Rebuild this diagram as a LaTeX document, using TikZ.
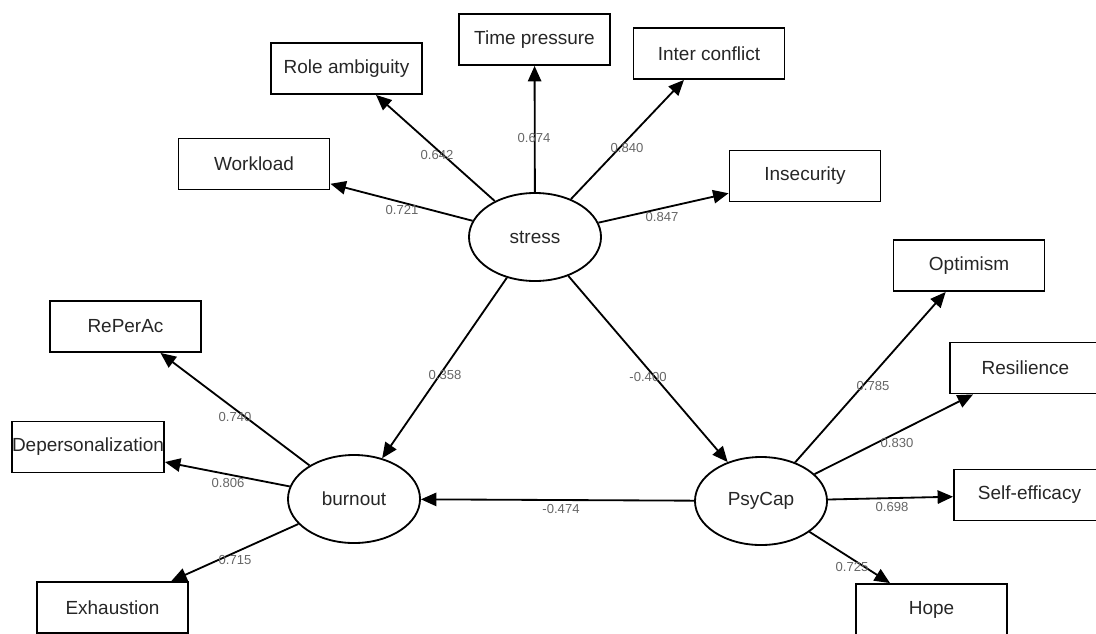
\documentclass[tikz,border=0pt]{standalone}
\usepackage{fontspec}
\setmainfont{Liberation Sans}
\usetikzlibrary{arrows.meta,shapes.geometric}
\tikzset{
  obs/.style={draw, line width=1.3pt, minimum width=3.775cm, minimum height=1.275cm, inner sep=0pt, text=black!85, font=\fontsize{13.5}{16}\selectfont},
  lat/.style={draw, ellipse, line width=1.3pt, minimum width=3.3cm, minimum height=2.2cm, inner sep=0pt, text=black!85, font=\fontsize{13.5}{16}\selectfont},
  load/.style={-{Triangle[length=11pt,width=9.5pt]}, line width=1.3pt},
  wt/.style={inner sep=0pt, text=black!60, font=\fontsize{9.3}{11}\selectfont}
}
\begin{document}
\begin{tikzpicture}[x=0.025cm,y=-0.025cm]
\useasboundingbox (0,0) rectangle (1096,633);
% latent variables
\node[lat] (stress)  at (535,237) {stress};
\node[lat] (burnout) at (354,499) {burnout};
\node[lat] (psycap)  at (761,501) {PsyCap};
% stress indicators
\node[obs] (work)  at (254,164)     {Workload};
\node[obs] (role)  at (346.5,68.5)  {Role ambiguity};
\node[obs] (time)  at (534.5,39.5)  {Time pressure};
\node[obs] (inter) at (709,53.5)    {Inter conflict};
\node[obs] (insec) at (805,176)     {Insecurity};
% burnout indicators
\node[obs] (reper)  at (125.5,326.5) {RePerAc};
\node[obs] (depers) at (88,447)      {Depersonalization};
\node[obs] (exhaus) at (112.5,607.5) {Exhaustion};
% psycap indicators
\node[obs] (optim)   at (969,265.5)  {Optimism};
\node[obs] (resil)   at (1025.5,368) {Resilience};
\node[obs] (selfeff) at (1029.5,495) {Self-efficacy};
\node[obs] (hope)    at (931.5,609.5) {Hope};
% loadings
\draw[load] (stress) -- (work);
\draw[load] (stress) -- (role);
\draw[load] (stress) -- (time);
\draw[load] (stress) -- (inter);
\draw[load] (stress) -- (insec);
\draw[load] (burnout) -- (reper);
\draw[load] (burnout) -- (depers);
\draw[load] (burnout) -- (exhaus);
\draw[load] (psycap) -- (optim);
\draw[load] (psycap) -- (resil);
\draw[load] (psycap) -- (selfeff);
\draw[load] (psycap) -- (hope);
% structural paths
\draw[load] (stress) -- (burnout);
\draw[load] (stress) -- (psycap);
\draw[load] (psycap) -- (burnout);
% coefficients
\node[wt] (w-work)  at (402,210) {0.721};
\node[wt] (w-role)  at (437,155) {0.642};
\node[wt] (w-time)  at (534,138) {0.674};
\node[wt] (w-inter) at (627,148) {0.840};
\node[wt] (w-insec) at (662,217) {0.847};
\node[wt] (w-reper)  at (235,417) {0.740};
\node[wt] (w-depers) at (228,483) {0.806};
\node[wt] (w-exhaus) at (235,560) {0.715};
\node[wt] (w-optim)   at (873,386) {0.785};
\node[wt] (w-resil)   at (897,443) {0.830};
\node[wt] (w-selfeff) at (892,507) {0.698};
\node[wt] (w-hope)    at (852,567) {0.725};
\node[wt] (w-sb) at (445,375) {0.358};
\node[wt] (w-sp) at (648,377) {-0.400};
\node[wt] (w-pb) at (561,509) {-0.474};
\end{tikzpicture}
\end{document}
